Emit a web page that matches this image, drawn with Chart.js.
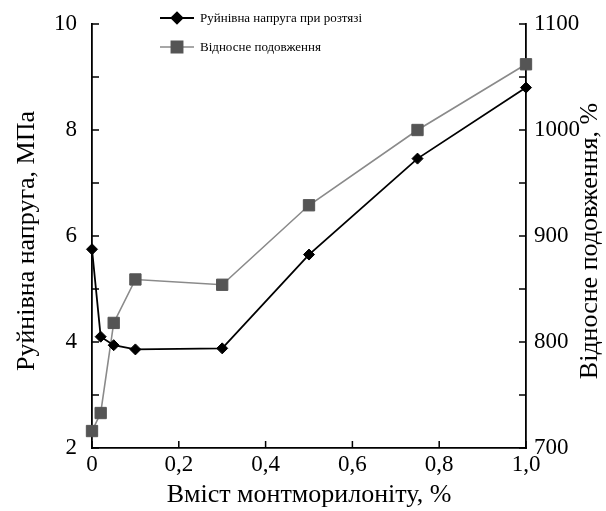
<!DOCTYPE html>
<html>
<head>
<meta charset="utf-8">
<script src="https://cdn.jsdelivr.net/npm/chart.js@4"></script>
<style>
  html, body { margin: 0; padding: 0; background: #fff; }
  #wrap { width: 606px; height: 511px; }
</style>
</head>
<body>
<div id="wrap"><canvas id="chart" width="606" height="511"></canvas></div>
<script>
// Montmorillonite content, %
const content = [0, 0.02, 0.05, 0.1, 0.3, 0.5, 0.75, 1.0];
// Breaking stress, MPa (left axis)
const stress = [5.75, 4.1, 3.94, 3.86, 3.88, 5.65, 7.46, 8.8];
// Relative elongation, % (right axis)
const elongation = [716, 733, 818, 859, 854, 929, 1000, 1062];

const seriesNames = ['Руйнівна напруга при розтязі', 'Відносне подовження'];
const xTitle = 'Вміст монтморилоніту, %';
const yLeftTitle = 'Руйнівна напруга, МПа';
const yRightTitle = 'Відносне подовження, %';

const FONT = '"Liberation Serif", "Times New Roman", serif';

function toPoints(xs, ys) {
    return xs.map((x, i) => ({ x: x, y: ys[i] }));
}

// inward tick marks, no grid
const innerTicks = {
    id: 'innerTicks',
    afterDraw(chart) {
        const ctx = chart.ctx;
        const a = chart.chartArea;
        ctx.save();
        ctx.strokeStyle = '#000';
        ctx.lineWidth = 1.5;
        ctx.beginPath();
        chart.scales.x.ticks.forEach(t => {
            const px = chart.scales.x.getPixelForValue(t.value);
            ctx.moveTo(px, a.bottom);
            ctx.lineTo(px, a.bottom - 7);
        });
        chart.scales.y.ticks.forEach(t => {
            const py = chart.scales.y.getPixelForValue(t.value);
            ctx.moveTo(a.left, py);
            ctx.lineTo(a.left + 7, py);
        });
        chart.scales.y1.ticks.forEach(t => {
            const py = chart.scales.y1.getPixelForValue(t.value);
            ctx.moveTo(a.right, py);
            ctx.lineTo(a.right - 7, py);
        });
        ctx.stroke();
        ctx.restore();
    }
};

// both vertical titles read bottom-to-top
const sideTitles = {
    id: 'sideTitles',
    afterDraw(chart) {
        const ctx = chart.ctx;
        const a = chart.chartArea;
        const midY = (a.top + a.bottom) / 2 + 5;
        ctx.save();
        ctx.font = '26px ' + FONT;
        ctx.fillStyle = '#000';
        ctx.textAlign = 'center';
        ctx.textBaseline = 'middle';
        [[27, yLeftTitle], [590, yRightTitle]].forEach(([x, txt]) => {
            ctx.save();
            ctx.translate(x, midY);
            ctx.rotate(-Math.PI / 2);
            ctx.fillText(txt, 0, 0);
            ctx.restore();
        });
        ctx.restore();
    }
};

// legend drawn in the upper part of the plot
const lineLegend = {
    id: 'lineLegend',
    afterDraw(chart) {
        const ctx = chart.ctx;
        ctx.save();
        ctx.font = '13px ' + FONT;
        ctx.textBaseline = 'middle';
        chart.data.datasets.forEach((ds, i) => {
            const y = 18 + i * 29;
            ctx.strokeStyle = ds.borderColor;
            ctx.lineWidth = ds.borderWidth;
            ctx.beginPath();
            ctx.moveTo(160, y);
            ctx.lineTo(194, y);
            ctx.stroke();
            ctx.strokeStyle = ds.pointBorderColor;
            ctx.fillStyle = ds.pointBackgroundColor;
            Chart.helpers.drawPoint(ctx, {
                pointStyle: ds.pointStyle,
                radius: ds.pointRadius,
                borderWidth: 1
            }, 177, y);
            ctx.fillStyle = '#000';
            ctx.fillText(seriesNames[i], 200, y + 1);
        });
        ctx.restore();
    }
};

function fixVertical(width) {
    return s => {
        s.width = width;
        s.paddingTop = 0;
        s.paddingBottom = 0;
    };
}

new Chart(document.getElementById('chart'), {
    type: 'line',
    data: {
        datasets: [
            {
                label: seriesNames[0],
                data: toPoints(content, stress),
                yAxisID: 'y',
                borderColor: '#000',
                borderWidth: 1.8,
                pointStyle: 'rectRot',
                pointRadius: 5.5,
                pointBackgroundColor: '#000',
                pointBorderColor: '#000',
                pointBorderWidth: 1,
                tension: 0,
                clip: false
            },
            {
                label: seriesNames[1],
                data: toPoints(content, elongation),
                yAxisID: 'y1',
                borderColor: '#8a8a8a',
                borderWidth: 1.6,
                pointStyle: 'rect',
                pointRadius: 8,
                pointBackgroundColor: '#555',
                pointBorderColor: '#555',
                pointBorderWidth: 1,
                tension: 0,
                clip: false
            }
        ]
    },
    options: {
        responsive: false,
        animation: false,
        layout: { padding: { top: 24, left: 0, right: 0, bottom: 0 } },
        plugins: {
            legend: { display: false },
            tooltip: { enabled: false }
        },
        scales: {
            x: {
                type: 'linear',
                min: 0,
                max: 1.0,
                ticks: {
                    stepSize: 0.2,
                    color: '#000',
                    font: { family: FONT, size: 23 },
                    padding: 3,
                    maxRotation: 0,
                    callback: v => v === 0 ? '0' : v.toFixed(1).replace('.', ',')
                },
                grid: { display: false, drawTicks: false },
                border: { display: true, color: '#000', width: 1.8 },
                title: {
                    display: true,
                    text: xTitle,
                    color: '#000',
                    font: { family: FONT, size: 26 },
                    padding: { top: 0, bottom: 0 }
                },
                afterFit: s => { s.height = 63; }
            },
            y: {
                position: 'left',
                min: 2,
                max: 10,
                ticks: {
                    stepSize: 1,
                    color: '#000',
                    font: { family: FONT, size: 23 },
                    padding: 15,
                    callback: v => v % 2 === 0 ? String(v) : ''
                },
                grid: { display: false, drawTicks: false },
                border: { display: true, color: '#000', width: 1.8 },
                afterFit: fixVertical(92)
            },
            y1: {
                position: 'right',
                min: 700,
                max: 1100,
                ticks: {
                    stepSize: 50,
                    color: '#000',
                    font: { family: FONT, size: 23 },
                    padding: 8,
                    callback: v => v % 100 === 0 ? String(v) : ''
                },
                grid: { display: false, drawTicks: false },
                border: { display: true, color: '#000', width: 1.8 },
                afterFit: fixVertical(80)
            }
        }
    },
    plugins: [innerTicks, sideTitles, lineLegend]
});
</script>
</body>
</html>
